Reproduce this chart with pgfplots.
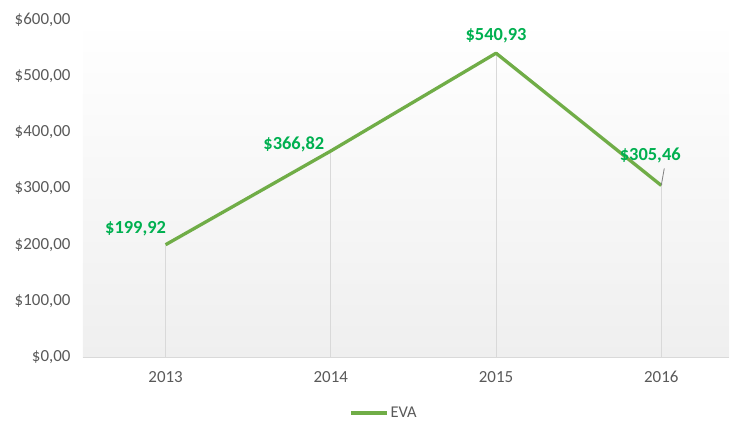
\documentclass[border=0pt]{standalone}
\usepackage{pgfplots}
\usepackage{pgfplotstable}
\usepackage{fontspec}
\setmainfont{Carlito}
\pgfplotsset{compat=1.18}

\definecolor{evagreen}{HTML}{70AD47}
\definecolor{labgreen}{HTML}{00B050}
\definecolor{ticktext}{HTML}{595959}
\definecolor{gridgray}{HTML}{D9D9D9}
\definecolor{bggray}{HTML}{EFEFEF}

% x = category index, dx/dy = label offset from the point (bp)
\pgfplotstableread{
x y dx dy
0 199.92 -30 16
1 366.82 -37 7
2 540.93 0 17
3 305.46 -11 30
}\evadata

\begin{document}
\begin{tikzpicture}
\path[use as bounding box] (-83bp,-69bp) rectangle (647bp,357bp);
\begin{axis}[
    scale only axis,
    width=646bp, height=337bp,
    xmin=-0.5, xmax=3.41,
    ymin=0, ymax=600,
    xtick={0,1,2,3},
    xticklabels={2013,2014,2015,2016},
    ytick={0,100,200,300,400,500,600},
    yticklabels={{\$0,00},{\$100,00},{\$200,00},{\$300,00},{\$400,00},{\$500,00},{\$600,00}},
    major tick length=0pt,
    axis lines*=left,
    x axis line style={draw=gridgray, line width=0.8bp},
    y axis line style={draw=none},
    tick label style={font=\fontsize{17}{19}\selectfont, text=ticktext},
    yticklabel style={xshift=-9bp},
    xticklabel style={yshift=-11bp},
    axis background/.style={top color=white, bottom color=bggray},
    clip=false,
    legend style={at={(0.466,-0.166)}, anchor=center, draw=none, fill=none,
        font=\fontsize{16.5}{18}\selectfont, text=ticktext},
    legend image code/.code={\draw[#1] (0bp,0bp) -- (36bp,0bp);},
]
% drop lines
\addplot[ycomb, draw=gridgray, line width=1bp, forget plot] table[x=x, y=y] {\evadata};
% EVA line
\addplot[draw=evagreen, line width=3.3bp, line join=round, mark=none,
    point meta=y,
    visualization depends on={\thisrow{dx} \as \dx},
    visualization depends on={\thisrow{dy} \as \dy},
    nodes near coords={\$\pgfmathprintnumber[fixed, fixed zerofill, precision=2, use comma, assume math mode=true]{\pgfplotspointmeta}},
    every node near coord/.append style={anchor=center, xshift=\dx bp, yshift=\dy bp,
        font=\bfseries\fontsize{18.5}{20}\selectfont, text=labgreen},
] table[x=x, y=y] {\evadata};
\addlegendentry{EVA}
% leader line for the 2016 label
\draw[gray, line width=0.8bp] (axis cs:3,305.46) -- ++(3bp,17bp);
\end{axis}
\end{tikzpicture}
\end{document}
